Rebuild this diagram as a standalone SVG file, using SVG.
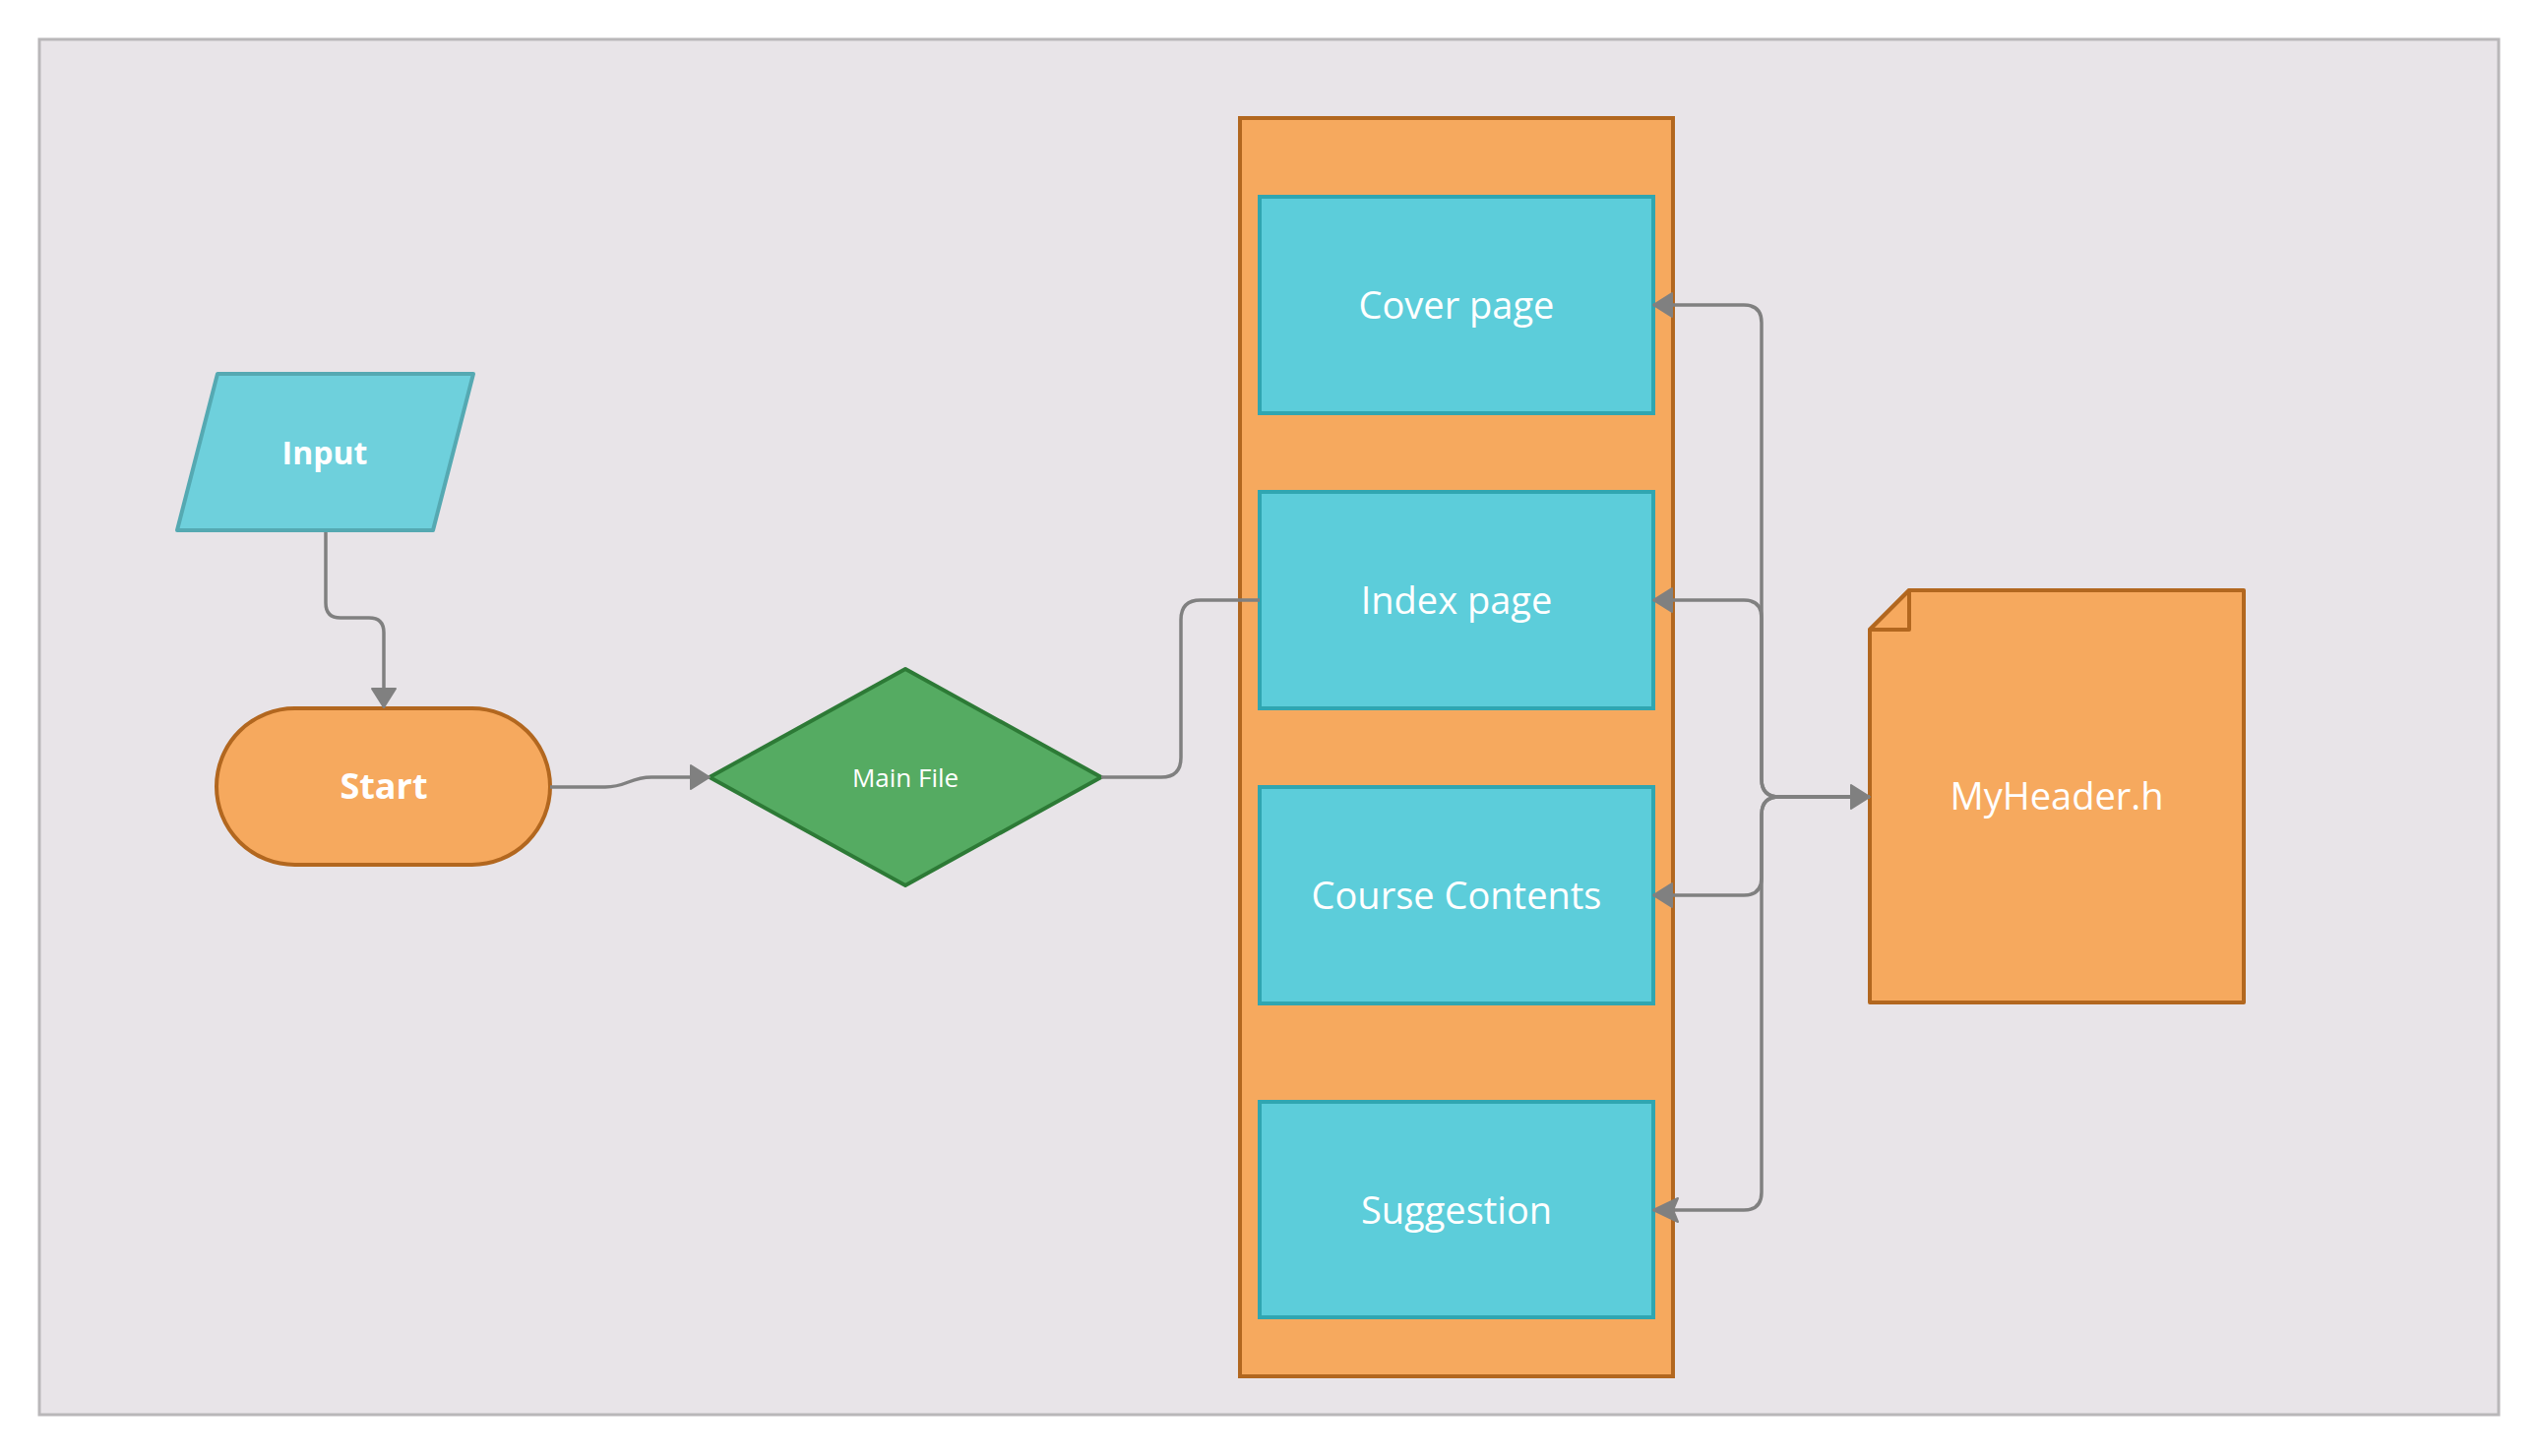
<svg xmlns="http://www.w3.org/2000/svg" width="2580" height="1480" viewBox="0 0 2580 1480">
  <defs>
    <style>
      .lbl { font-family: "Open Sans", "Noto Sans", "Liberation Sans", sans-serif; fill: #ffffff; text-anchor: middle; }
      .b { font-weight: bold; }
      .conn { fill: none; stroke: #808080; stroke-width: 3.5; stroke-linejoin: round; }
      .orange { fill: #f6a95e; stroke: #b2671f; stroke-width: 4; }
      .cyan { fill: #5ccdda; stroke: #30a6b1; stroke-width: 4; }
    </style>
    <marker id="arr" markerUnits="userSpaceOnUse" markerWidth="24" markerHeight="28" refX="20" refY="13" orient="auto-start-reverse">
      <path d="M1,1 L20,13 L1,25 Z" fill="#808080" stroke="#808080" stroke-width="2" stroke-linejoin="round"/>
    </marker>
    <marker id="arrN" markerUnits="userSpaceOnUse" markerWidth="32" markerHeight="30" refX="28" refY="14" orient="auto">
      <path d="M3,2 L28,14 L3,26 L8,14 Z" fill="#808080" stroke="#808080" stroke-width="2" stroke-linejoin="round"/>
    </marker>
  </defs>

  <rect x="0" y="0" width="2580" height="1480" fill="#ffffff"/>
  <rect id="frame" x="40" y="40" width="2499" height="1398" fill="#e8e4e8" stroke="#b9b7b9" stroke-width="3"/>

  <g id="input">
    <polygon points="221,380 481,380 440,539 180,539" fill="#6ed0dc" stroke="#55a9b2" stroke-width="4" stroke-linejoin="round"/>
    <text class="lbl b" x="330" y="472" font-size="32">Input</text>
  </g>

  <g id="start">
    <rect class="orange" x="220" y="720" width="339" height="159" rx="79.5" ry="79.5"/>
    <text class="lbl b" x="390" y="812" font-size="36">Start</text>
  </g>

  <g id="mainfile">
    <polygon points="721,790 920,680 1119,790 920,900" fill="#55ab62" stroke="#2d7a36" stroke-width="4" stroke-linejoin="round"/>
    <text class="lbl" x="920" y="800" font-size="26">Main File</text>
  </g>

  <g id="container">
    <rect class="orange" x="1260" y="120" width="440" height="1279"/>
  </g>

  <g id="cover">
    <rect class="cyan" x="1280" y="200" width="400" height="220"/>
    <text class="lbl" x="1480" y="324" font-size="38">Cover page</text>
  </g>

  <g id="index">
    <rect class="cyan" x="1280" y="500" width="400" height="220"/>
    <text class="lbl" x="1480" y="624" font-size="38">Index page</text>
  </g>

  <g id="course">
    <rect class="cyan" x="1280" y="800" width="400" height="220"/>
    <text class="lbl" x="1480" y="924" font-size="38">Course Contents</text>
  </g>

  <g id="suggestion">
    <rect class="cyan" x="1280" y="1120" width="400" height="219"/>
    <text class="lbl" x="1480" y="1244" font-size="38">Suggestion</text>
  </g>

  <g id="myheader">
    <path class="orange" d="M1940,600 L2280,600 L2280,1019 L1900,1019 L1900,640 Z" stroke-linejoin="round"/>
    <path d="M1900,640 L1940,600 L1940,640 Z" fill="#f6a95e" stroke="#b2671f" stroke-width="4" stroke-linejoin="round"/>
    <text class="lbl" x="2090" y="823" font-size="38">MyHeader.h</text>
  </g>

  <g id="connectors">
    <path class="conn" d="M331,541 L331,613 Q331,628 346,628 L375,628 Q390,628 390,643 L390,719" marker-end="url(#arr)"/>
    <path class="conn" d="M559,800 L615,800 C637,800 640,790 662,790 L721,790" marker-end="url(#arr)"/>
    <path class="conn" d="M1119,790 L1180,790 Q1200,790 1200,770 L1200,630 Q1200,610 1220,610 L1280,610"/>
    <path class="conn" d="M1900,810 L1808,810 Q1790,810 1790,792 L1790,328 Q1790,310 1772,310 L1680,310" marker-start="url(#arr)" marker-end="url(#arr)"/>
    <path class="conn" d="M1900,810 L1808,810 Q1790,810 1790,792 L1790,628 Q1790,610 1772,610 L1680,610" marker-end="url(#arr)"/>
    <path class="conn" d="M1900,810 L1808,810 Q1790,810 1790,828 L1790,892 Q1790,910 1772,910 L1680,910" marker-end="url(#arr)"/>
    <path class="conn" d="M1900,810 L1808,810 Q1790,810 1790,828 L1790,1212 Q1790,1230 1772,1230 L1680,1230" marker-end="url(#arrN)"/>
  </g>
</svg>
